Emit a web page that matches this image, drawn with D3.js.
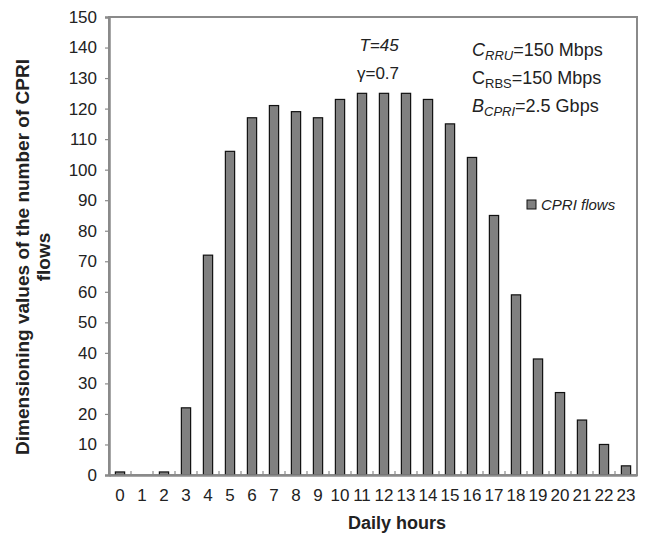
<!DOCTYPE html>
<meta charset="utf-8">
<style>
  body { margin: 0; background: #fff; }
  text { font-family: "Liberation Sans", Arial, sans-serif; fill: #222; }
</style>
<body>
<svg width="649" height="536"></svg>
<script src="https://d3js.org/d3.v7.min.js"></script>
<script>

var hours = d3.range(0, 24).map(String);
var flows = [1, 0, 1, 22, 72, 106, 117, 121, 119, 117, 123, 125, 125, 125, 123, 115, 104, 85, 59, 38, 27, 18, 10, 3];
var yTicks = d3.range(0, 151, 10);

var svg = d3.select("svg"),
    margin = {top: 17, right: 12, bottom: 61, left: 109},
    width = 649 - margin.left - margin.right,
    height = 536 - margin.top - margin.bottom;

var g = svg.append("g").attr("transform", "translate(" + margin.left + "," + margin.top + ")");

var x = d3.scaleBand().domain(hours).range([0, width]).paddingInner(0.58).paddingOuter(0.29);
var y = d3.scaleLinear().domain([0, 150]).range([height, 0]);

// plot frame
g.append("rect")
    .attr("width", width).attr("height", height)
    .attr("fill", "none").attr("stroke", "#8a8a8a").attr("stroke-width", 2);

// bars
g.selectAll(".bar")
  .data(flows)
  .enter().append("rect")
    .attr("class", "bar")
    .attr("x", (d, i) => x(hours[i]))
    .attr("y", d => y(d))
    .attr("width", x.bandwidth())
    .attr("height", d => height - y(d))
    .attr("fill", "#808080")
    .attr("stroke", "#111")
    .attr("stroke-width", 1.2);

// y axis
var yAxis = g.append("g")
    .call(d3.axisLeft(y).tickValues(yTicks).tickSize(4).tickPadding(8));
yAxis.select(".domain").attr("stroke", "#8a8a8a").attr("stroke-width", 2.5);
yAxis.selectAll(".tick line").attr("stroke", "#8a8a8a").attr("stroke-width", 1.2);
yAxis.selectAll("text").style("font-size", "17px").attr("fill", "#222");

// x axis
var step = x.step();
var xAxis = g.append("g")
    .attr("transform", "translate(0," + height + ")")
    .call(d3.axisBottom(x).tickSize(0).tickPadding(14));
xAxis.select(".domain").attr("stroke", "#8a8a8a").attr("stroke-width", 2.5);
xAxis.selectAll("text").style("font-size", "17px").attr("fill", "#222");
xAxis.selectAll(".sep")
  .data(d3.range(1, 24))
  .enter().append("line")
    .attr("class", "sep")
    .attr("x1", d => d * step).attr("x2", d => d * step)
    .attr("y1", 0).attr("y2", -4)
    .attr("stroke", "#8a8a8a").attr("stroke-width", 1.2);

// axis titles
svg.append("text")
    .attr("x", 397).attr("y", 529)
    .attr("text-anchor", "middle")
    .style("font-size", "18px").style("font-weight", "bold")
    .text("Daily hours");

var yt = svg.append("text")
    .attr("transform", "translate(29,257) rotate(-90)")
    .attr("text-anchor", "middle")
    .style("font-size", "19px").style("font-weight", "bold");
yt.append("tspan").attr("x", 0).attr("dy", 0).text("Dimensioning values of the number of CPRI");
yt.append("tspan").attr("x", 0).attr("dy", 21).text("flows");

// annotations
svg.append("text")
    .attr("x", 379).attr("y", 51).attr("text-anchor", "middle")
    .style("font-size", "17px").style("font-style", "italic")
    .text("T=45");
svg.append("text")
    .attr("x", 378).attr("y", 79).attr("text-anchor", "middle")
    .style("font-size", "17px")
    .text("\u03b3=0.7");

function param(yPos, base, baseItalic, sub, subItalic, rest) {
  var t = svg.append("text").attr("x", 472).attr("y", yPos).style("font-size", "18px");
  t.append("tspan").style("font-style", baseItalic ? "italic" : "normal").text(base);
  t.append("tspan").attr("dy", 4).style("font-size", "13px")
    .style("font-style", subItalic ? "italic" : "normal").text(sub);
  t.append("tspan").attr("dy", -4).text(rest);
}
param(56, "C", true, "RRU", true, "=150 Mbps");
param(84, "C", false, "RBS", false, "=150 Mbps");
param(112, "B", true, "CPRI", true, "=2.5 Gbps");

// legend
svg.append("rect")
    .attr("x", 527).attr("y", 200).attr("width", 9).attr("height", 9)
    .attr("fill", "#808080").attr("stroke", "#111").attr("stroke-width", 1);
svg.append("text")
    .attr("x", 541).attr("y", 210)
    .style("font-size", "15px").style("font-style", "italic")
    .text("CPRI flows");

</script>
